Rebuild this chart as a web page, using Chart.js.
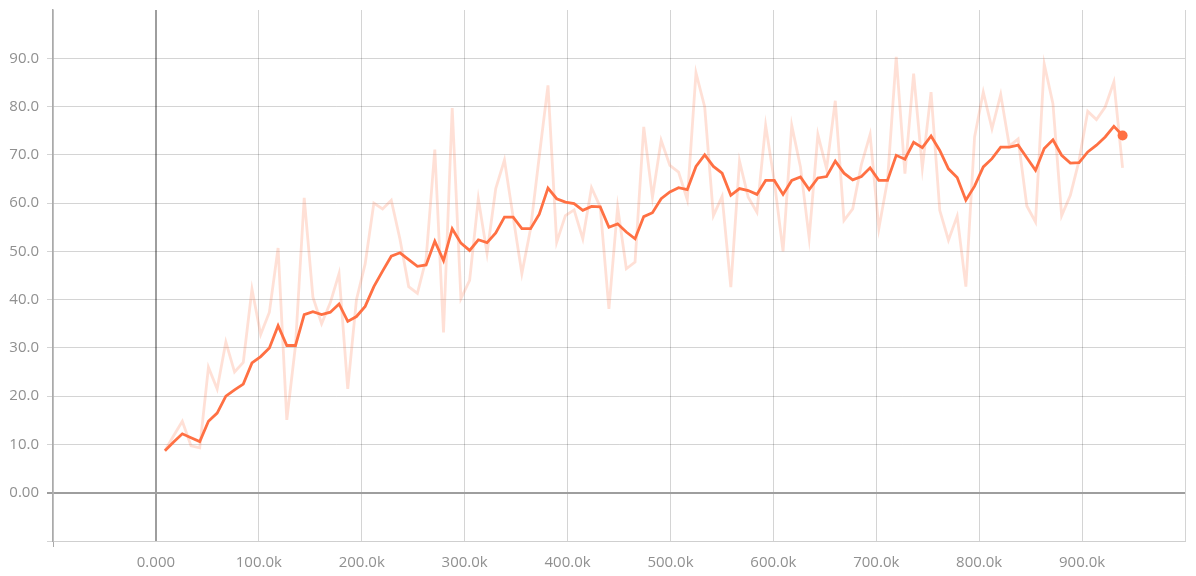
<!DOCTYPE html>
<html lang="en">

<head>
  <meta charset="UTF-8">
  <title>Scalar chart</title>
  <script src="https://cdn.jsdelivr.net/npm/chart.js@4/dist/chart.umd.min.js"></script>
  <style>
    body { margin: 0; background: #fff; }
    #wrap { width: 1196px; height: 576px; }
  </style>
</head>

<body>

  <div id="wrap">
    <canvas id="myChart" width="1196" height="576"></canvas>
  </div>

  <script>

    // training steps (x)
    const steps = [
      8750, 17210, 25670, 34130, 42590, 51050, 59510, 67970, 76430, 84890,
      93350, 101810, 110270, 118730, 127190, 135650, 144110, 152570, 161030, 169490,
      177950, 186410, 194870, 203330, 211790, 220250, 228710, 237170, 245630, 254090,
      262550, 271010, 279470, 287930, 296390, 304850, 313310, 321770, 330230, 338690,
      347150, 355610, 364070, 372530, 380990, 389450, 397910, 406370, 414830, 423290,
      431750, 440210, 448670, 457130, 465590, 474050, 482510, 490970, 499430, 507890,
      516350, 524810, 533270, 541730, 550190, 558650, 567110, 575570, 584030, 592490,
      600950, 609410, 617870, 626330, 634790, 643250, 651710, 660170, 668630, 677090,
      685550, 694010, 702470, 710930, 719390, 727850, 736310, 744770, 753230, 761690,
      770150, 778610, 787070, 795530, 803990, 812450, 820910, 829370, 837830, 846290,
      854750, 863210, 871670, 880130, 888590, 897050, 905510, 913970, 922430, 930890,
      939350
    ];

    // raw values (light line)
    const rawValues = [
      8.7, 11.8, 14.8, 9.7, 9.3, 26.0, 21.5, 31.2, 25.0, 27.0,
      42.2, 32.8, 37.4, 50.7, 15.1, 30.5, 61.1, 40.5, 35.0, 39.4,
      45.4, 21.5, 40.0, 47.4, 60.0, 58.8, 60.6, 52.5, 42.7, 41.3,
      48.4, 71.1, 33.2, 79.7, 40.2, 44.0, 60.9, 49.6, 63.0, 68.9,
      57.1, 45.4, 54.7, 69.7, 84.4, 51.9, 57.4, 58.6, 52.6, 63.2,
      59.2, 38.1, 59.2, 46.4, 47.8, 75.8, 61.2, 73.0, 67.8, 66.4,
      60.7, 87.0, 79.9, 57.4, 61.4, 42.6, 68.7, 61.2, 58.1, 76.1,
      64.5, 50.0, 76.1, 67.5, 52.8, 74.2, 67.1, 81.2, 56.4, 58.8,
      68.0, 74.2, 54.7, 64.7, 90.3, 66.1, 86.8, 67.3, 83.0, 58.5,
      52.3, 57.3, 42.7, 73.7, 83.0, 75.4, 82.5, 71.8, 73.3, 59.4,
      56.1, 88.8, 80.6, 57.4, 61.6, 68.8, 79.0, 77.3, 79.9, 85.1,
      67.3
    ];

    // smoothed values (solid line)
    const smoothValues = [
      8.7, 10.5, 12.2, 11.4, 10.6, 14.8, 16.5, 20.0, 21.3, 22.5,
      26.9, 28.2, 30.0, 34.6, 30.5, 30.5, 36.9, 37.5, 36.9, 37.4,
      39.1, 35.5, 36.5, 38.6, 42.7, 45.9, 49.0, 49.7, 48.3, 46.9,
      47.2, 52.1, 48.1, 54.7, 51.7, 50.2, 52.4, 51.8, 53.8, 57.1,
      57.1, 54.7, 54.7, 57.7, 63.1, 60.9, 60.2, 59.9, 58.5, 59.3,
      59.2, 55.0, 55.7, 54.0, 52.6, 57.2, 58.0, 60.9, 62.3, 63.2,
      62.8, 67.6, 70.0, 67.6, 66.2, 61.6, 63.0, 62.6, 61.8, 64.7,
      64.7, 61.8, 64.7, 65.4, 62.8, 65.2, 65.5, 68.7, 66.2, 64.8,
      65.5, 67.3, 64.7, 64.7, 69.9, 69.1, 72.6, 71.5, 73.9, 70.9,
      67.1, 65.3, 60.6, 63.5, 67.5, 69.2, 71.6, 71.6, 72.0, 69.4,
      66.8, 71.3, 73.1, 69.9, 68.3, 68.4, 70.6, 72.0, 73.7, 75.9,
      74.0
    ];

    const orange = '#ff7043';
    const gridColor = 'rgba(0, 0, 0, 0.17)';
    const zeroColor = '#9e9e9e';
    const labelFont = { family: "'Segoe UI', 'Open Sans', sans-serif", size: 15 };
    const lastIndex = smoothValues.length - 1;

    const data = {
      datasets: [
        {
          label: 'smoothed',
          data: steps.map((s, i) => ({ x: s, y: smoothValues[i] })),
          borderColor: orange,
          backgroundColor: orange,
          borderWidth: 2.8,
          pointRadius: (ctx) => ctx.dataIndex === lastIndex ? 5 : 0,
          pointBorderWidth: 0,
          tension: 0,
          order: 0
        }, {
          label: 'raw',
          data: steps.map((s, i) => ({ x: s, y: rawValues[i] })),
          borderColor: 'rgba(255, 112, 67, 0.22)',
          borderWidth: 2.8,
          pointRadius: 0,
          tension: 0,
          order: 1
        }
      ]
    };

    const config = {
      type: 'line',
      data,
      options: {
        responsive: false,
        animation: false,
        layout: { padding: { top: 10, right: 11, left: 0, bottom: 0 } },
        plugins: {
          legend: { display: false },
          tooltip: { enabled: false }
        },
        scales: {
          x: {
            type: 'linear',
            min: -100000,
            max: 1000000,
            afterFit: (scale) => {
              scale.height = 35;
              scale.paddingLeft = 0;
              scale.paddingRight = 0;
            },
            border: { color: '#cfcfcf', width: 1 },
            grid: {
              color: (ctx) => ctx.tick && ctx.tick.value === 0 ? zeroColor : gridColor,
              lineWidth: (ctx) => ctx.tick && ctx.tick.value === 0 ? 2 : 1,
              tickColor: (ctx) => ctx.tick && ctx.tick.value === -100000 ? '#aaaaaa' : 'rgba(0,0,0,0)',
              tickLength: 6
            },
            ticks: {
              stepSize: 100000,
              autoSkip: false,
              maxRotation: 0,
              padding: 7,
              color: '#909090',
              font: labelFont,
              callback: (v) => {
                if (v <= -100000 || v >= 1000000) return '';
                if (v === 0) return '0.000';
                return (v / 1000).toFixed(1) + 'k';
              }
            }
          },
          y: {
            min: -10,
            max: 100,
            afterFit: (scale) => {
              scale.width = 53;
              scale.paddingTop = 0;
              scale.paddingBottom = 0;
            },
            border: { color: '#aaaaaa', width: 1.5 },
            grid: {
              color: (ctx) => {
                if (!ctx.tick) return gridColor;
                if (ctx.tick.value === 100) return 'rgba(0,0,0,0)';
                return ctx.tick.value === 0 ? zeroColor : gridColor;
              },
              lineWidth: (ctx) => ctx.tick && ctx.tick.value === 0 ? 2 : 1,
              tickLength: 6
            },
            ticks: {
              stepSize: 10,
              padding: 8,
              color: '#909090',
              font: labelFont,
              callback: (v) => {
                if (v <= -10 || v >= 100) return '';
                if (v === 0) return '0.00';
                return v.toFixed(1);
              }
            }
          }
        }
      }
    };

    var myChart = new Chart(
      document.getElementById('myChart'),
      config
    );

  </script>

</body>

</html>
